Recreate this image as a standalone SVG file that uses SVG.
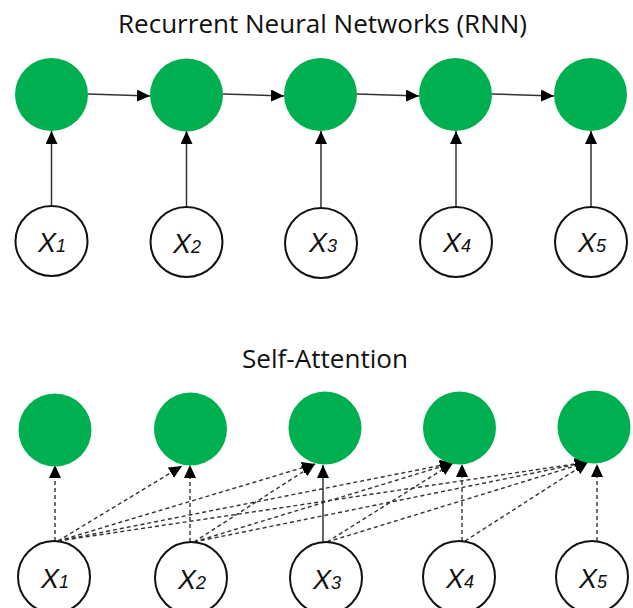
<svg xmlns="http://www.w3.org/2000/svg" width="633" height="608" viewBox="0 0 633 608">
<style>
.title{font-family:"Open Sans","Liberation Sans",sans-serif;font-size:25px;fill:#111;}
.g{fill:#00b050;}
.in{fill:#fff;stroke:#111;stroke-width:2;}
.lbl{font-family:"Liberation Sans",Arial,sans-serif;font-style:italic;font-size:27px;fill:#111;text-anchor:middle;}
.sub{font-size:18px;}
.solid{stroke:#333;stroke-width:1.5;fill:none;marker-end:url(#ah);}
.dash{stroke:#333;stroke-width:1.4;fill:none;stroke-dasharray:4 3;marker-end:url(#ah);}
</style>
<defs>
<marker id="ah" markerUnits="userSpaceOnUse" markerWidth="14" markerHeight="12" refX="13" refY="6" orient="auto">
<path d="M0,0 L13,6 L0,12 Z" fill="#000"/>
</marker>
</defs>
<rect width="633" height="608" fill="#fff"/>
<text class="title" x="118" y="33" textLength="409" lengthAdjust="spacingAndGlyphs">Recurrent Neural Networks (RNN)</text>
<text class="title" x="242" y="368" textLength="166" lengthAdjust="spacingAndGlyphs">Self-Attention</text>

<g id="connectors">
<path class="solid" d="M88,94 L150,96"/>
<path class="solid" d="M223,94 L284,96"/>
<path class="solid" d="M357,94 L419,96"/>
<path class="solid" d="M492,94 L554,96"/>
<path class="solid" d="M51.5,206 L51.5,131"/>
<path class="solid" d="M186.5,207 L186.5,131"/>
<path class="solid" d="M321,208 L321,131"/>
<path class="solid" d="M456,207 L456,131"/>
<path class="solid" d="M591,207 L591,131"/>
<path class="dash" d="M55,541 L55,465"/>
<path class="dash" d="M190,542 L190,465"/>
<path class="solid" d="M323,542 L323,465"/>
<path class="dash" d="M462,541 L462,464"/>
<path class="dash" d="M597,541 L597,464"/>
<path class="dash" d="M58,541 L182,466"/>
<path class="dash" d="M58,541 L315,464"/>
<path class="dash" d="M58,541 L453,463"/>
<path class="dash" d="M58,541 L588,462"/>
<path class="dash" d="M194,542 L315,464"/>
<path class="dash" d="M194,542 L453,463"/>
<path class="dash" d="M194,542 L588,462"/>
<path class="dash" d="M327,542 L453,463"/>
<path class="dash" d="M327,542 L588,462"/>
<path class="dash" d="M465,541 L588,462"/>
</g>

<g id="h1"><circle class="g" cx="51.5" cy="94.5" r="36.5"/></g>
<g id="h2"><circle class="g" cx="186.5" cy="95" r="36.5"/></g>
<g id="h3"><circle class="g" cx="320.5" cy="94.5" r="36.5"/></g>
<g id="h4"><circle class="g" cx="455.5" cy="94.5" r="36.5"/></g>
<g id="h5"><circle class="g" cx="590.5" cy="94.5" r="36.5"/></g>

<g id="x1"><ellipse class="in" cx="51.5" cy="241" rx="36" ry="35"/><text class="lbl" x="52" y="252">X<tspan class="sub">1</tspan></text></g>
<g id="x2"><ellipse class="in" cx="186.5" cy="242" rx="36" ry="35"/><text class="lbl" x="187" y="253">X<tspan class="sub">2</tspan></text></g>
<g id="x3"><ellipse class="in" cx="321" cy="243" rx="36" ry="35"/><text class="lbl" x="323" y="252">X<tspan class="sub">3</tspan></text></g>
<g id="x4"><ellipse class="in" cx="456" cy="242" rx="36" ry="35"/><text class="lbl" x="457" y="252">X<tspan class="sub">4</tspan></text></g>
<g id="x5"><ellipse class="in" cx="591" cy="242" rx="36" ry="35"/><text class="lbl" x="592" y="252">X<tspan class="sub">5</tspan></text></g>

<g id="a1"><circle class="g" cx="55" cy="430" r="36.5"/></g>
<g id="a2"><circle class="g" cx="190.5" cy="429" r="36.5"/></g>
<g id="a3"><circle class="g" cx="325" cy="428" r="36.5"/></g>
<g id="a4"><circle class="g" cx="459.5" cy="428" r="36.5"/></g>
<g id="a5"><circle class="g" cx="594" cy="427" r="36.5"/></g>

<g id="sx1"><ellipse class="in" cx="54" cy="577" rx="36" ry="36"/><text class="lbl" x="55" y="588">X<tspan class="sub">1</tspan></text></g>
<g id="sx2"><ellipse class="in" cx="191" cy="578" rx="36" ry="36"/><text class="lbl" x="192" y="589">X<tspan class="sub">2</tspan></text></g>
<g id="sx3"><ellipse class="in" cx="326" cy="578" rx="36" ry="36"/><text class="lbl" x="327" y="589">X<tspan class="sub">3</tspan></text></g>
<g id="sx4"><ellipse class="in" cx="459" cy="577" rx="36" ry="36"/><text class="lbl" x="460" y="588">X<tspan class="sub">4</tspan></text></g>
<g id="sx5"><ellipse class="in" cx="592" cy="577" rx="36" ry="36"/><text class="lbl" x="593" y="588">X<tspan class="sub">5</tspan></text></g>
</svg>
